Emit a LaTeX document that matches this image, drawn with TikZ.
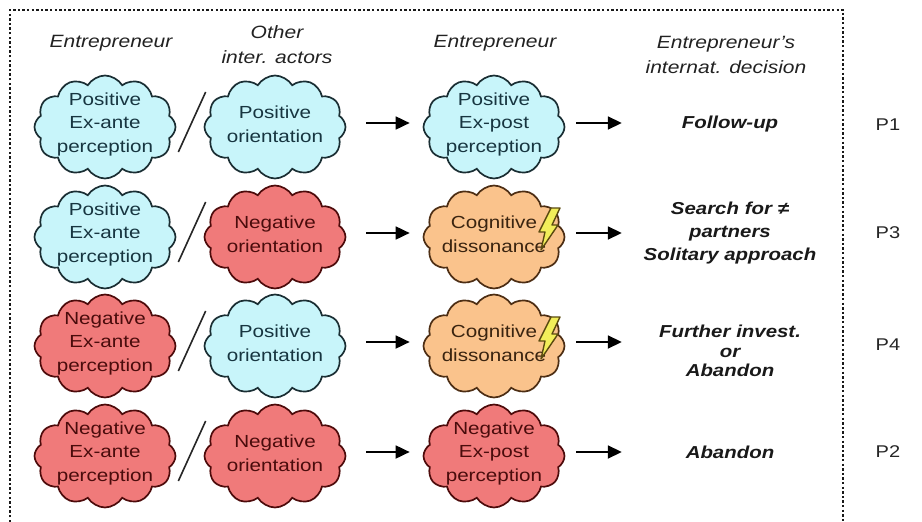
\documentclass[tikz,border=0pt]{standalone}
\usepackage{fontspec}
\setmainfont{Liberation Sans}[FakeStretch=1.18]
\usetikzlibrary{shapes.symbols,arrows.meta,calc}

\definecolor{posfill}{HTML}{C8F5FA}
\definecolor{posline}{HTML}{1A2E33}
\definecolor{postxt}{HTML}{173540}
\definecolor{negfill}{HTML}{F07A7A}
\definecolor{negline}{HTML}{4D0B0B}
\definecolor{negtxt}{HTML}{4A0C0C}
\definecolor{disfill}{HTML}{FAC38C}
\definecolor{disline}{HTML}{4D2E14}
\definecolor{distxt}{HTML}{3A2410}
\definecolor{boltfill}{HTML}{F2EE5A}
\definecolor{boltline}{HTML}{5A4A10}
\definecolor{headtxt}{HTML}{222222}

\tikzset{
  frame/.style={draw=black!90, line width=2.8pt, dash pattern=on 2.4pt off 2.2pt},
  cloudbase/.style={cloud, cloud puffs=12, cloud puff arc=118, cloud ignores aspect,
    minimum width=141pt, minimum height=103pt, inner sep=0pt, line width=1.7pt},
  poscloud/.style={cloudbase, draw=posline, fill=posfill},
  negcloud/.style={cloudbase, draw=negline, fill=negfill},
  discloud/.style={cloudbase, draw=disline, fill=disfill},
  cloudtxt/.style={inner sep=0pt, align=center, yshift=3pt,
    font=\fontsize{17.5}{23.5}\selectfont},
  postext/.style={cloudtxt, text=postxt},
  negtext/.style={cloudtxt, text=negtxt},
  distext/.style={cloudtxt, text=distxt},
  header/.style={inner sep=0pt, align=center, text=headtxt,
    font=\fontsize{17.8}{25}\selectfont\itshape},
  decision/.style={inner sep=0pt, align=center, text width=200pt, text=black!90,
    font=\fontsize{17.3}{23}\selectfont\bfseries\itshape},
  plabel/.style={inner sep=0pt, text=black!85, font=\fontsize{17}{20}\selectfont},
  arr/.style={line width=1.8pt, -{Triangle[length=14pt,width=13pt]}},
  slash/.style={line width=1.6pt, black!85},
  flash/.pic={
    \draw[line width=1.4pt, draw=boltline, fill=boltfill, line join=round]
      (4,-21) -- (13,-21) -- (5,-4) -- (11,-4) -- (-6,21) -- (-2,3) -- (-8,3) -- cycle;
  }
}

\begin{document}
\begin{tikzpicture}[x=1pt,y=-1pt]
\useasboundingbox (0,0) rectangle (922,522);
\fill[white] (0,0) rectangle (922,522);

% dotted frame around the scheme
\draw[frame] (10,522) -- (10,10) -- (843,10) -- (843,522);

% column headings
\node[header] (h1) at (111,43) {Entrepreneur};
\node[header] (h2) at (277,45) {Other\\inter. actors};
\node[header] (h3) at (495,43) {Entrepreneur};
\node[header] (h4) at (726,55) {Entrepreneur’s\\internat. decision};

% row 1
\node[poscloud] (a1) at (105,127) {};
\node[postext] (ta1) at (a1) {Positive\\Ex-ante\\perception};
\node[poscloud] (b1) at (275,127) {};
\node[postext] (tb1) at (b1) {Positive\\orientation};
\node[poscloud] (c1) at (494,127) {};
\node[postext] (tc1) at (c1) {Positive\\Ex-post\\perception};
\node[decision] (d1) at (730,124) {Follow-up};
\node[plabel] (p1) at (888,125) {P1};

% row 2
\node[poscloud] (a2) at (105,237) {};
\node[postext] (ta2) at (a2) {Positive\\Ex-ante\\perception};
\node[negcloud] (b2) at (275,237) {};
\node[negtext] (tb2) at (b2) {Negative\\orientation};
\node[discloud] (c2) at (494,237) {};
\node[distext] (tc2) at (c2) {Cognitive\\dissonance};
\pic at ($(c2)+(53,-8)$) {flash};
\node[decision] (d2) at (730,233) {Search for ≠\\partners\\Solitary approach};
\node[plabel] (p3) at (888,233) {P3};

% row 3
\node[negcloud] (a3) at (105,346) {};
\node[negtext] (ta3) at (a3) {Negative\\Ex-ante\\perception};
\node[poscloud] (b3) at (275,346) {};
\node[postext] (tb3) at (b3) {Positive\\orientation};
\node[discloud] (c3) at (494,346) {};
\node[distext] (tc3) at (c3) {Cognitive\\dissonance};
\pic at ($(c3)+(53,-8)$) {flash};
\node[decision, font=\fontsize{17.3}{19.5}\selectfont\bfseries\itshape] (d3) at (730,351) {Further invest.\\or\\Abandon};
\node[plabel] (p4) at (888,345) {P4};

% row 4
\node[negcloud] (a4) at (105,456) {};
\node[negtext] (ta4) at (a4) {Negative\\Ex-ante\\perception};
\node[negcloud] (b4) at (275,456) {};
\node[negtext] (tb4) at (b4) {Negative\\orientation};
\node[negcloud] (c4) at (494,456) {};
\node[negtext] (tc4) at (c4) {Negative\\Ex-post\\perception};
\node[decision] (d4) at (730,452) {Abandon};
\node[plabel] (p2) at (888,452) {P2};

% separators between the two views
\foreach \r in {1,2,3,4}{
  \draw[slash] ($(a\r.east)+(2,25)$) -- ($(b\r.west)+(2,-35)$);
}

% arrows to ex-post state and to the decision
\foreach \r in {1,2,3,4}{
  \draw[arr, shorten <=20pt, shorten >=13pt]
    ([yshift=4pt]b\r.east) -- ([yshift=4pt]b\r.east -| c\r.west);
  \draw[arr, shorten <=11pt, shorten >=8pt]
    ([yshift=4pt]c\r.east) -- ([yshift=4pt]c\r.east -| d\r.west);
}
\end{tikzpicture}
\end{document}
